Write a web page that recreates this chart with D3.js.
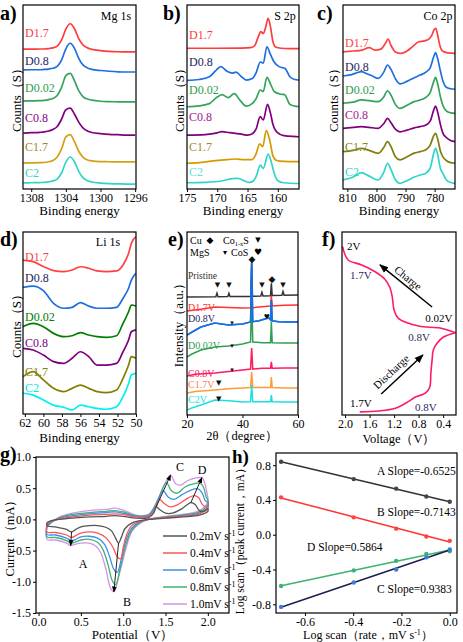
<!DOCTYPE html>
<html><head><meta charset="utf-8">
<script src="https://cdn.jsdelivr.net/npm/d3@7"></script>
<style>body{margin:0;background:#fff}svg{display:block}</style>
</head><body><svg id="chart"></svg>
<script>
// ================= DATA =================
const xpsSeries = ["D1.7","D0.8","D0.02","C0.8","C1.7","C2"];

// (a) Mg 1s
const mgEnergy = [1308.9,1308,1307,1306.5,1306,1305.5,1305,1304.5,1304,1303.5,1303,1302.5,1302,1301.5,1301,1300,1299,1298,1297,1296];
const mgD17  = [76,76.0,76.1,76.1,76.3,76.7,77.7,80.9,86.9,89.8,87.1,81.6,78.2,76.7,75.9,75.2,74.8,74.6,74.5,74.5];
const mgD08  = [64.7,64.8,64.8,65,65.2,65.6,66.6,70,76.2,79.2,76.4,70.9,67.3,65.8,65,64.4,64,63.7,63.6,63.6];
const mgD002 = [47.8,47.9,48.0,48.2,48.6,49.2,50.8,55.2,61.6,62.8,58.7,53.3,50.1,48.9,48.3,47.7,47.5,47.4,47.3,47.3];
const mgC08  = [30.4,30.6,30.8,31,31.5,32.3,34,37.9,43.1,43.9,40.6,36.2,33.1,31.5,30.7,30.1,29.7,29.5,29.3,29.3];
const mgC17  = [14.1,14.2,14.3,14.4,14.8,15.5,17.4,21.8,28.3,29.6,25.7,20.4,17.2,15.8,15.3,14.9,14.8,14.7,14.7,14.7];
const mgC2   = [3.3,3.4,3.5,3.6,3.9,4.4,5.4,8.7,14.6,17.4,14.8,9.4,6.0,4.5,3.8,3.2,2.9,2.8,2.7,2.7];

// (b) S 2p  [energy, counts]
const sD17 = [[175,76.5],[170,76.5],[166,76.6],[164.5,76.8],[163.8,78],[163.2,83],[162.8,85.5],[162.4,84.5],[162,88],[161.6,92.8],[161.2,88],[160.8,80],[160.3,77],[159.5,76.5],[158,76.3],[156.5,76.3]];
const sD08 = [[175,59],[173,59.5],[171.3,61],[170.2,64.5],[169.4,66.5],[168.4,64],[167.5,63],[166.9,63.5],[166,61],[165.2,59.2],[164.2,60],[163.6,63],[162.9,69],[162.4,68.4],[161.8,77.3],[161.2,73],[160.6,69],[159.8,66.5],[158.8,65.5],[158,61],[157.2,59.5],[156.5,59.2]];
const sD002 = [[175,44.7],[173,45.2],[171.3,46.4],[170.2,49.5],[169.2,51.3],[168.2,49.7],[167.2,51.8],[166.2,48],[165.2,45],[164.2,46.5],[163.6,49],[162.9,53.8],[162.4,53],[161.8,60.7],[161.2,57],[160.6,53],[159.5,51.5],[158.9,51.3],[158,46],[157.2,45],[156.5,44.7]];
const sC08 = [[175,29.3],[172,29.6],[170,30.5],[169.2,31.2],[168,30.6],[166,29.8],[165,29.3],[164.2,30],[163.6,32.5],[162.9,39.3],[162.4,37.5],[161.7,46],[161.2,41],[160.8,35],[160.2,31],[159,29],[157,28.5],[156.5,28.4]];
const sC17 = [[175,14],[173,14.3],[171,15.2],[169,15.8],[167,16.3],[165.5,16],[164.3,16],[163.6,19],[163,24.5],[162.5,23],[161.9,31.7],[161.3,26],[160.8,18],[160.2,15.5],[159,15],[157,14.9],[156.5,14.9]];
const sC2 = [[175,3.4],[172,3.6],[169.5,4.2],[167.5,5.6],[166.6,5.8],[165.5,4.4],[164.7,3.6],[164,4.5],[163.5,7.5],[162.9,13],[162.4,11.2],[161.6,19],[161.1,15],[160.6,8.6],[160,4.5],[159,3.4],[157,3],[156.5,3]];

// (c) Co 2p
const coD17 = [[811.5,74.5],[808,75],[805,75.5],[802.5,76.8],[800.5,75.5],[798.5,76],[797,79],[796,81.4],[795,78],[793.5,74.5],[791.5,73.7],[789.5,75],[787.5,77.5],[785.5,80],[783.5,80.5],[782,81.5],[781,83.5],[780.2,86.5],[779.6,87.3],[779,84],[778.2,78],[777.3,75],[775.5,74],[773,73.7]];
const coD08 = [[811.5,61.4],[809,62],[807,63],[805.2,63.8],[803.5,62.8],[801.5,61.5],[799.4,60.1],[797.5,63.5],[796.2,67.4],[795,65],[793.5,60],[791.9,57.1],[789.5,58.5],[787,60.5],[785,61.9],[783,63.5],[781.5,66],[780.3,72],[779.7,74.1],[779,71],[778,64],[777.2,59],[776,55.3],[774.5,54.5],[773,54.2]];
const coD002 = [[811.5,46.6],[808,47.2],[805.2,48.4],[802.5,48],[799.4,47.5],[797.5,50],[796.2,53.4],[795,51],[793.5,46],[791.9,43.8],[789.5,45.5],[787,47.5],[785,48.4],[783,49.8],[781.5,52.5],[780.3,58.5],[779.7,60.7],[779,57.5],[778,50],[777.2,45.5],[776,42.5],[774.5,41.4],[773,41.1]];
const coC08 = [[811.5,33],[808,33.5],[805.2,33.9],[802.5,33.5],[799.4,33],[797.5,35.5],[796.2,38.4],[795,36],[793.5,32.5],[791.9,31.1],[789.5,32],[787,33.2],[785,33.9],[783,34.8],[781.5,37],[780.3,43],[779.7,45.1],[779,42],[778,35],[777.2,30.5],[776,28],[774.5,26.3],[773,25.7]];
const coC17 = [[811.5,20.3],[808,21],[805.2,22.1],[802.5,21],[799.4,19.4],[797.5,22.5],[796.2,25.7],[795,23],[793.5,17.5],[791.9,15.8],[789.5,17.5],[787,19.5],[785,20.3],[783,21.3],[781.5,24],[780.3,29],[779.7,30.3],[779,27.5],[778,20.5],[777.2,17.6],[776,15.5],[774.5,14.3],[773,14]];
const coC2 = [[811.5,4.9],[808,6.5],[805.2,8.9],[802.5,7],[799.4,4.9],[797.5,9],[796.2,14],[795,10.5],[793.5,5],[791.9,3.1],[789.5,4.5],[787,6.5],[785,7.6],[783,8.6],[781.5,11.5],[780.3,19.5],[779.7,22.1],[779,19],[778,11],[777.2,8.6],[776,5],[774.5,3.5],[773,3.1]];

// (d) Li 1s
const liD17 = [[62.2,84.6],[61.1,83.7],[60,81],[58.9,78.8],[57.8,78.2],[56.9,79.1],[56,80.9],[55.1,80.1],[54.2,78.6],[53.2,78.2],[52.1,78.6],[51.4,81.9],[50.8,88.3],[50.5,93.8],[50,97.4]];
const liD08 = [[62.2,69.6],[61.1,70.3],[60,67.8],[58.9,60.8],[57.8,58.1],[56.9,58.6],[56,61.2],[55.1,59.3],[54.2,58.1],[53.2,58.1],[52.1,58.6],[51.4,63.6],[50.8,69.1],[50.5,73.6],[50,77.3]];
const liD002 = [[62.2,48],[61.1,49.8],[60,48],[58.9,44.3],[57.8,42.5],[56.9,43],[56,44.7],[55.1,43.4],[54.2,42.5],[53.2,42.1],[52.1,43],[51.4,49.8],[50.8,56.2],[50.5,59.9],[50,59.3]];
const liC08 = [[62.2,36.1],[61.1,35.2],[60,32.4],[58.9,28.8],[57.8,27.8],[56.9,30.6],[56,34.2],[55.1,31.5],[54.2,26.9],[53.2,26.9],[52.1,27.8],[51.4,34.2],[50.8,40.7],[50.5,45.2],[50,46.2]];
const liC17 = [[62.2,20.5],[61.1,23.3],[60,18.7],[58.9,14.1],[57.8,12.3],[56.9,14.1],[56,15.9],[55.1,14.1],[54.2,12.3],[53.2,11.7],[52.1,13.2],[51.4,19.6],[50.8,26.9],[50.5,31.5],[50,30.6]];
const liC2 = [[62.2,11.4],[61.1,10.4],[60,7.7],[58.9,4.9],[57.8,3.7],[56.9,2.2],[56,4.9],[55.1,4],[54.2,3.1],[53.2,2.6],[52.1,4],[51.4,9.5],[50.8,16.8],[50.5,21.4],[50,22.3]];

// (e) XRD  [2theta, intensity]
const xrdSeries = ["Pristine","D1.7V","D0.8V","D0.02V","C0.8V","C1.7V","C2V"];
const xrdPristine = [[20,64.5],[30.4,64.6],[30.8,66.5],[31.2,64.6],[34.7,64.7],[35.1,66.5],[35.5,64.7],[43.0,64.8],[43.3,83],[43.6,64.9],[46.6,65],[47,67],[47.4,65],[50.1,65.2],[50.4,72],[50.7,65.3],[54.2,65.4],[54.6,67.5],[55,65.5],[60,65.6]];
const xrdD17 = [[20,56.8],[25,57.8],[30,59],[35,58.8],[40,58.5],[43.0,58.6],[43.3,62],[43.6,58.6],[48,59.3],[50.1,59.5],[50.4,65],[50.7,59.6],[55,60],[60,60.1]];
const xrdD08 = [[20,43.7],[22,45.5],[25,48.1],[30,50.3],[35,49.2],[40,49.7],[42.9,50.8],[43.3,83.6],[43.7,51],[46,51.5],[48,52.5],[49.5,53],[50.1,52],[50.4,62.8],[50.7,51.5],[53,51],[56,50.8],[60,50.8]];
const xrdD002 = [[20,31.7],[22,33.5],[25,35.5],[30,37.2],[35,37.7],[40,38.8],[42.9,39.9],[43.3,62.8],[43.7,39.9],[47,39.5],[50.1,39.5],[50.4,50.8],[50.7,39.5],[55,39.3],[60,39.3]];
const xrdC08 = [[20,21.3],[23,22.3],[30,23],[35,23.8],[40,24.6],[42.9,25.1],[43.3,36.6],[43.7,25.1],[47,25.5],[50.1,25.5],[50.4,29],[50.7,25.5],[55,25.7],[60,25.7]];
const xrdC17 = [[20,12],[23,12.8],[30,13.7],[35,14.3],[40,14.8],[42.9,15],[43.3,23.5],[43.7,15],[47,15],[50.1,15],[50.4,20.8],[50.7,15],[55,14.8],[60,14.8]];
const xrdC2 = [[20,2.7],[22,4],[25,5.5],[30,8.2],[35,7.8],[40,7.1],[42.9,7.2],[43.3,16.4],[43.7,7.2],[47,7.2],[50.1,7.2],[50.4,10.9],[50.7,7.2],[55,7.1],[60,7.1]];
// phase markers: [glyph, 2theta, intensity]
const xrdMarks = [["◆",43.4,85.2],["◆",50.6,74.3],["▼",31.0,70.8],["▼",35.1,70.8],["▼",47.0,70.8],["▼",54.6,70.8],
  ["♥",48.8,53.6],["▾",36.2,50.3],["▾",36.2,37.7],["▾",36.2,24.6],["▼",31.4,17.5],["▼",31.4,8.7]];

// (f) voltage profile [voltage, progress]
const fDischarge = [[1.76,1.7],[1.45,2.2],[1.18,3.7],[0.97,7.3],[0.86,9.7],[0.69,11.9],[0.62,15],[0.6,23],[0.58,30],[0.56,35.5],[0.5,39.2],[0.4,42.5],[0.2,45]];
const fCharge = [[0.2,45],[0.45,47.5],[0.8,48.6],[1.13,52.8],[1.2,57.4],[1.23,64.6],[1.27,69.8],[1.35,74.2],[1.51,78.3],[1.73,82],[1.95,84.7],[2.01,88.4],[2.04,92]];

// (g) CV  [potential V, current mA]
const cvRates = ["0.2mV s","0.4mV s","0.6mV s","0.8mV s","1.0mV s"];
const cvAn02 = [[0.1,-0.05],[0.15,-0.02],[0.25,0.0],[0.4,0.02],[0.6,0.04],[0.8,0.05],[0.9,0.06],[1.0,0.05],[1.15,0.02],[1.3,0.03],[1.36,0.1],[1.39,0.2],[1.43,0.16],[1.5,0.1],[1.58,0.1],[1.68,0.16],[1.76,0.24],[1.8,0.27],[1.85,0.24],[1.9,0.14],[1.95,0.13],[2.0,0.17]];
const cvAn04 = [[0.1,-0.07],[0.15,-0.03],[0.25,0.01],[0.4,0.04],[0.6,0.07],[0.8,0.08],[0.9,0.09],[1.0,0.08],[1.15,0.04],[1.3,0.05],[1.37,0.14],[1.43,0.32],[1.48,0.26],[1.56,0.2],[1.65,0.24],[1.75,0.33],[1.84,0.38],[1.89,0.35],[1.93,0.25],[1.97,0.2],[2.0,0.22]];
const cvAn06 = [[0.1,-0.09],[0.15,-0.04],[0.25,0.02],[0.4,0.06],[0.6,0.09],[0.8,0.11],[0.9,0.12],[1.0,0.1],[1.15,0.05],[1.3,0.06],[1.38,0.2],[1.47,0.46],[1.53,0.36],[1.6,0.32],[1.7,0.4],[1.8,0.47],[1.88,0.49],[1.93,0.43],[1.97,0.3],[2.0,0.27]];
const cvAn08 = [[0.1,-0.11],[0.15,-0.05],[0.25,0.03],[0.4,0.08],[0.6,0.11],[0.8,0.13],[0.9,0.14],[1.0,0.12],[1.15,0.06],[1.3,0.07],[1.4,0.28],[1.51,0.59],[1.57,0.46],[1.64,0.42],[1.73,0.52],[1.83,0.57],[1.91,0.58],[1.95,0.51],[1.98,0.36],[2.0,0.31]];
const cvAn10 = [[0.1,-0.13],[0.15,-0.05],[0.25,0.04],[0.4,0.1],[0.6,0.14],[0.8,0.16],[0.9,0.18],[1.0,0.15],[1.15,0.07],[1.3,0.08],[1.42,0.35],[1.51,0.62],[1.56,0.71],[1.62,0.57],[1.68,0.55],[1.76,0.62],[1.85,0.66],[1.93,0.67],[1.96,0.6],[1.99,0.42],[2.0,0.35]];
const cvCa02 = [[2.0,0.13],[1.9,0.07],[1.7,0.04],[1.5,0.02],[1.3,0.0],[1.2,-0.02],[1.1,-0.06],[1.02,-0.15],[0.98,-0.28],[0.945,-0.38],[0.91,-0.3],[0.86,-0.18],[0.8,-0.13],[0.7,-0.1],[0.6,-0.1],[0.5,-0.12],[0.44,-0.16],[0.39,-0.2],[0.33,-0.16],[0.2,-0.12],[0.1,-0.1]];
const cvCa04 = [[2.0,0.17],[1.9,0.09],[1.7,0.05],[1.5,0.03],[1.3,0.0],[1.2,-0.03],[1.1,-0.1],[1.04,-0.25],[1.0,-0.45],[0.97,-0.63],[0.93,-0.6],[0.88,-0.45],[0.8,-0.3],[0.7,-0.22],[0.6,-0.2],[0.5,-0.22],[0.44,-0.26],[0.39,-0.29],[0.33,-0.25],[0.2,-0.21],[0.1,-0.2]];
const cvCa06 = [[2.0,0.2],[1.9,0.1],[1.7,0.06],[1.5,0.03],[1.3,0.0],[1.2,-0.04],[1.1,-0.14],[1.03,-0.35],[0.98,-0.62],[0.93,-0.85],[0.89,-0.8],[0.84,-0.6],[0.78,-0.4],[0.7,-0.3],[0.6,-0.27],[0.5,-0.28],[0.44,-0.32],[0.39,-0.34],[0.33,-0.3],[0.2,-0.25],[0.1,-0.24]];
const cvCa08 = [[2.0,0.24],[1.9,0.12],[1.7,0.07],[1.5,0.04],[1.3,0.0],[1.2,-0.05],[1.1,-0.17],[1.03,-0.42],[0.97,-0.75],[0.91,-1.05],[0.87,-0.98],[0.82,-0.72],[0.76,-0.48],[0.7,-0.37],[0.6,-0.32],[0.5,-0.33],[0.44,-0.36],[0.38,-0.38],[0.33,-0.34],[0.2,-0.29],[0.1,-0.28]];
const cvCa10 = [[2.0,0.28],[1.9,0.14],[1.7,0.08],[1.5,0.05],[1.3,0.0],[1.2,-0.06],[1.1,-0.2],[1.03,-0.48],[0.96,-0.85],[0.89,-1.16],[0.85,-1.1],[0.8,-0.82],[0.74,-0.55],[0.68,-0.43],[0.6,-0.38],[0.5,-0.38],[0.43,-0.4],[0.38,-0.42],[0.33,-0.38],[0.2,-0.33],[0.1,-0.32]];

// (h) log-log
const hLogRate = [-0.699,-0.398,-0.222,-0.097,0];
const hA = [0.84,0.64,0.53,0.44,0.38];
const hB = [0.43,0.2,0.07,-0.02,-0.07];
const hD = [-0.59,-0.41,-0.3,-0.22,-0.19];
const hC = [-0.83,-0.55,-0.4,-0.26,-0.17];
const hSlopes = ["A Slope=-0.6525","B Slope=-0.7143","D Slope=0.5864","C Slope=0.9383"];

// ================= DRAWING =================
const SERIF = '"Liberation Serif","Times New Roman",serif';
const svg = d3.select("#chart").attr("width",463).attr("height",642);
const defs = svg.append("defs");
defs.append("marker").attr("id","arr").attr("viewBox","0 0 10 10").attr("refX",9).attr("refY",5)
  .attr("markerWidth",6).attr("markerHeight",6).attr("orient","auto")
  .append("path").attr("d","M0,1L10,5L0,9Z").attr("fill","#000");

function txt(x,y,s,o={}){
  const t = svg.append("text").attr("x",x).attr("y",y)
    .attr("font-family",o.ff||SERIF).attr("font-size",o.fs||12)
    .attr("fill",o.fill||"#000").attr("text-anchor",o.anchor||"start").text(s);
  if(o.bold) t.attr("font-weight","bold");
  if(o.mid) t.attr("dominant-baseline","central");
  if(o.rot!=null) t.attr("transform",`rotate(${o.rot},${x},${y})`);
  return t;
}
function sup(t,s){ t.append("tspan").attr("dy",-4).attr("font-size",8).text(s); return t; }
function frame(L,T,R,B){ svg.append("rect").attr("x",L).attr("y",T).attr("width",R-L).attr("height",B-T).attr("fill","none").attr("stroke","#000").attr("stroke-width",1.2); }
let clipN=0;
function clip(L,T,R,B){ const id="cp"+(clipN++); defs.append("clipPath").attr("id",id).append("rect").attr("x",L).attr("y",T).attr("width",R-L).attr("height",B-T); return "url(#"+id+")"; }
function bottomAxis(x,ticks,y0,fmt){
  const a = svg.append("g").attr("transform",`translate(0,${y0})`)
    .call(d3.axisBottom(x).tickValues(ticks).tickSize(3).tickPadding(1).tickFormat(fmt||(d=>String(d))));
  a.select(".domain").remove();
  a.selectAll("text").attr("font-family",SERIF).attr("font-size",12).attr("fill","#000");
  a.selectAll("line").attr("stroke","#000");
}
function leftAxis(y,ticks,x0,fmt){
  const a = svg.append("g").attr("transform",`translate(${x0},0)`)
    .call(d3.axisLeft(y).tickValues(ticks).tickSize(3).tickPadding(2).tickFormat(fmt));
  a.select(".domain").remove();
  a.selectAll("text").attr("font-family",SERIF).attr("font-size",12).attr("fill","#000");
  a.selectAll("line").attr("stroke","#000");
}

function xpsPanel(o){
  const x = d3.scaleLinear().domain(o.xDomain).range([o.L,o.R]);
  const y = d3.scaleLinear().domain([0,100]).range([o.B,o.T]);
  const cp = clip(o.L,o.T,o.R,o.B);
  const line = d3.line().x(d=>x(d[0])).y(d=>y(d[1])).curve(d3.curveMonotoneX);
  const g = svg.append("g").attr("clip-path",cp);
  o.series.forEach((s,i)=>{
    g.append("path").attr("d",line(s)).attr("fill","none").attr("stroke",o.colors[i]).attr("stroke-width",1.7).attr("stroke-linejoin","round");
  });
  frame(o.L,o.T,o.R,o.B);
  bottomAxis(x,o.ticks,o.B);
  xpsSeries.forEach((n,i)=>txt(o.labelX,y(o.labelY[i]),n,{fs:12,fill:o.labelColors[i],mid:true}));
  txt(o.titleX,o.titleY,o.title,{fs:12,anchor:"middle"});
  txt(o.letterX,o.letterY,o.letter,{fs:20,bold:true});
  txt(o.ylabX,(o.T+o.B)/2,"Counts（S）",{fs:13,anchor:"middle",rot:-90,mid:true});
  txt((o.L+o.R)/2,o.B+o.xlabDy,"Binding energy",{fs:13,anchor:"middle"});
}

const lineCols = ["#ff3b3b","#1f6fe0","#35a35c","#800080","#d4a017","#2fd6c8"];
const labCols  = ["#ff3b3b","#1d1d5e","#2e9e4f","#8b008b","#9a8a20","#30d5c8"];
const zip = (xs,ys)=>xs.map((v,i)=>[v,ys[i]]);

xpsPanel({L:23,R:136,T:5,B:189,xDomain:[1308.95,1295.9],ticks:[1308,1304,1300,1296],
  series:[zip(mgEnergy,mgD17),zip(mgEnergy,mgD08),zip(mgEnergy,mgD002),zip(mgEnergy,mgC08),zip(mgEnergy,mgC17),zip(mgEnergy,mgC2)],
  colors:lineCols,labelColors:labCols,labelX:25,labelY:[84.8,69.6,54.9,38.6,22.8,8.7],
  title:"Mg 1s",titleX:116,titleY:20,letter:"a)",letterX:0,letterY:20,ylabX:16,xlabDy:26});
xpsPanel({L:187,R:299,T:5,B:189,xDomain:[175,156.5],ticks:[175,170,165,160],
  series:[sD17,sD08,sD002,sC08,sC17,sC2],
  colors:["#ff3b3b","#1f6fe0","#35a35c","#800080","#d69a00","#2fd6c8"],labelColors:["#ff3b3b","#1d1d5e","#2e9e4f","#a0208e","#a08c1e","#5fe0d8"],
  labelX:189,labelY:[83.7,69,53.8,39.1,22.8,9.2],
  title:"S 2p",titleX:285,titleY:20,letter:"b)",letterX:163,letterY:20,ylabX:179,xlabDy:26});
xpsPanel({L:343,R:455,T:5,B:189,xDomain:[811.5,773],ticks:[810,800,790,780],
  series:[coD17,coD08,coD002,coC08,coC17,coC2],
  colors:["#ff4040","#1f6fe0","#35a35c","#800080","#7f7f10","#2fd6c8"],labelColors:["#ff4040","#1d1d5e","#2e9e4f","#a0208e","#8b8b00","#30d5c8"],
  labelX:345,labelY:[79.3,66.3,53.8,40.2,22.8,9.2],
  title:"Co 2p",titleX:438,titleY:20,letter:"c)",letterX:317,letterY:20,ylabX:333,xlabDy:26});
xpsPanel({L:23,R:136,T:232,B:414,xDomain:[62.2,50],ticks:[62,60,58,56,54,52,50],
  series:[liD17,liD08,liD002,liC08,liC17,liC2],
  colors:["#ff4040","#1f6fe0","#008000","#800080","#808000","#00f0f0"],labelColors:["#ff4040","#1d1d5e","#008000","#800080","#808000","#00e5e5"],
  labelX:25,labelY:[86.3,74.7,53.3,39,23.1,14.3],
  title:"Li 1s",titleX:108,titleY:246,letter:"d)",letterX:0,letterY:246,ylabX:16,xlabDy:28});

// ---- (e) XRD ----
(function(){
  const L=187,R=298,T=232,B=415;
  const x = d3.scaleLinear().domain([20,60]).range([L,R]);
  const y = d3.scaleLinear().domain([0,100]).range([B,T]);
  const cols = ["#333333","#ff3333","#1a6fdf","#2e9e4f","#ff1a5e","#ff9a3c","#1ae0e0"];
  const labc = ["#333333","#ff3333","#1d1d5e","#2e9e4f","#ff1a5e","#ff7f50","#1ae0e0"];
  const labY = [76,58.5,52.5,37.8,22.8,16.8,8.2];
  const data = [xrdPristine,xrdD17,xrdD08,xrdD002,xrdC08,xrdC17,xrdC2];
  const line = d3.line().x(d=>x(d[0])).y(d=>y(d[1]));
  const g = svg.append("g").attr("clip-path",clip(L,T,R,B));
  data.forEach((s,i)=>g.append("path").attr("d",line(s)).attr("fill","none").attr("stroke",cols[i]).attr("stroke-width",1.5));
  g.append("path").attr("d",line(xrdD08)).attr("fill","none").attr("stroke",cols[2]).attr("stroke-width",1.5);
  xrdMarks.forEach(m=>txt(x(m[1]),y(m[2]),m[0],{ff:"DejaVu Sans",fs:m[0]==="◆"?9:7,anchor:"middle",mid:true,fill:"#111"}));
  xrdSeries.forEach((n,i)=>txt(L+1,y(labY[i]),n,{fs:n==="Pristine"?9.5:10,fill:labc[i],mid:true}));
  frame(L,T,R,B);
  bottomAxis(x,[20,40,60],B);
  // legend
  txt(190,244,"Cu",{fs:10}); txt(210,240,"◆",{ff:"DejaVu Sans",fs:9,anchor:"middle",mid:true});
  const co = txt(223,244,"Co",{fs:10}); co.append("tspan").attr("dy",2).attr("font-size",6.5).text("1-x"); co.append("tspan").attr("dy",-2).text("S");
  txt(258,240,"▼",{ff:"DejaVu Sans",fs:7,anchor:"middle",mid:true});
  txt(190,256,"MgS",{fs:10}); txt(225,252,"▾",{ff:"DejaVu Sans",fs:8,anchor:"middle",mid:true});
  txt(231,256,"CoS",{fs:10}); txt(258,252,"♥",{ff:"DejaVu Sans",fs:9,anchor:"middle",mid:true});
  txt(168,246,"e)",{fs:20,bold:true});
  txt(178,322,"Intensity（a.u.）",{fs:13,anchor:"middle",rot:-90,mid:true});
  txt(242,440,"2θ（degree）",{fs:12.5,anchor:"middle"});
})();

// ---- (f) voltage ----
(function(){
  const L=342,R=456,T=232,B=415;
  const x = d3.scaleLinear().domain([2.05,0.19]).range([L,R]);
  const y = d3.scaleLinear().domain([0,100]).range([B,T]);
  const line = d3.line().x(d=>x(d[0])).y(d=>y(d[1])).curve(d3.curveCatmullRom.alpha(0.5));
  const g = svg.append("g").attr("clip-path",clip(L-1,T,R+1,B));
  [fDischarge,fCharge].forEach(s=>g.append("path").attr("d",line(s)).attr("fill","none").attr("stroke","#ff1a66").attr("stroke-width",1.6));
  frame(L,T,R,B);
  bottomAxis(x,[2.0,1.6,1.2,0.8,0.4],B,d=>d.toFixed(1));
  const ann = [["2V",1.97,92.3,"#000"],["1.7V",1.92,76.5,"#2b2b5e"],["0.02V",0.69,53,"#000"],["0.8V",0.97,42.6,"#2b2b5e"],["1.7V",1.92,6.6,"#000"],["0.8V",0.86,4.4,"#2b2b5e"]];
  ann.forEach(a=>txt(x(a[1]),y(a[2]),a[0],{fs:11,fill:a[3],mid:true}));
  svg.append("line").attr("x1",x(0.58)).attr("y1",y(59)).attr("x2",x(1.43)).attr("y2",y(82)).attr("stroke","#000").attr("stroke-width",1.5).attr("marker-end","url(#arr)");
  svg.append("line").attr("x1",x(1.41)).attr("y1",y(11.5)).attr("x2",x(0.73)).attr("y2",y(32.8)).attr("stroke","#000").attr("stroke-width",1.5).attr("marker-end","url(#arr)");
  txt(x(0.97),y(75),"Charge",{fs:11,anchor:"middle",mid:true,rot:39});
  txt(x(1.25),y(23.7),"Discharge",{fs:11,anchor:"middle",mid:true,rot:-43});
  txt(322,246,"f)",{fs:20,bold:true});
  txt((L+R)/2,443,"Voltage（V）",{fs:12.5,anchor:"middle"});
})();

// ---- (g) CV ----
(function(){
  const L=36,R=229,T=457,B=613;
  const x = d3.scaleLinear().domain([-0.03,2.25]).range([L,R]);
  const y = d3.scaleLinear().domain([-1.5,1.0]).range([B,T]);
  const cols = ["#555555","#ff5555","#3d8fe8","#3cb371","#d591e6"];
  const an = [cvAn02,cvAn04,cvAn06,cvAn08,cvAn10], ca = [cvCa02,cvCa04,cvCa06,cvCa08,cvCa10];
  const line = d3.line().x(d=>x(d[0])).y(d=>y(d[1])).curve(d3.curveCatmullRom.alpha(0.5));
  for(let i=4;i>=0;i--){
    const loop = an[i].concat(ca[i]).concat([an[i][0]]);
    svg.append("path").attr("d",line(loop)).attr("fill","none").attr("stroke",cols[i]).attr("stroke-width",1.3);
  }
  const pick = (arr,f,cmp)=>arr.filter(f).reduce((a,b)=>cmp(b[1],a[1])?b:a);
  const lt=(a,b)=>a<b, gt=(a,b)=>a>b;
  const peaks = [
    [pick(ca[0],d=>d[0]<0.6,lt),pick(ca[4],d=>d[0]<0.6,lt)],
    [pick(ca[0],d=>d[0]>0.6,lt),pick(ca[4],d=>d[0]>0.6,lt)],
    [pick(an[0],d=>d[0]>1.2&&d[0]<1.6,gt),pick(an[4],d=>d[0]>1.2&&d[0]<1.65,gt)],
    [pick(an[0],d=>d[0]>1.7,gt),pick(an[4],d=>d[0]>1.7,gt)]];
  peaks.forEach(p=>svg.append("line").attr("x1",x(p[0][0])).attr("y1",y(p[0][1])).attr("x2",x(p[1][0])).attr("y2",y(p[1][1]))
    .attr("stroke","#222").attr("stroke-width",1).attr("marker-end","url(#arr)"));
  txt(83,568,"A",{fs:12,anchor:"middle"}); txt(127,606,"B",{fs:12,anchor:"middle"});
  txt(180,471,"C",{fs:12,anchor:"middle"}); txt(202,474,"D",{fs:12,anchor:"middle"});
  frame(L,T,R,B);
  bottomAxis(x,[0,0.5,1.0,1.5,2.0],B,d=>d.toFixed(1));
  leftAxis(y,[-1.5,-1.0,-0.5,0,0.5,1.0],L,d=>d.toFixed(1));
  const rows=[536,553,570,587,604];
  cvRates.forEach((r,i)=>{
    svg.append("line").attr("x1",163).attr("x2",187).attr("y1",rows[i]).attr("y2",rows[i]).attr("stroke",cols[i]).attr("stroke-width",1.5);
    sup(txt(190,rows[i]+4,r,{fs:11.5}),"-1");
  });
  txt(0,461,"g)",{fs:20,bold:true});
  txt(10,(T+B)/2,"Current（mA）",{fs:12.5,anchor:"middle",rot:-90,mid:true});
  txt((L+R)/2,639,"Potential（V）",{fs:13,anchor:"middle"});
})();

// ---- (h) log-log ----
(function(){
  const L=276,R=457,T=453,B=613;
  const x = d3.scaleLinear().domain([-0.72,0.03]).range([L,R]);
  const y = d3.scaleLinear().domain([-0.9,0.94]).range([B,T]);
  const sets = [[hA,"#333333","#444444"],[hB,"#ff3333","#ff4444"],[hD,"#3cb371","#3cb371"],[hC,"#1b1f4f","#3a7bd5"]];
  sets.forEach(([ys,lc,pc])=>{
    const mx=d3.mean(hLogRate), my=d3.mean(ys);
    const k=d3.sum(hLogRate.map((v,i)=>(v-mx)*(ys[i]-my)))/d3.sum(hLogRate.map(v=>(v-mx)*(v-mx)));
    const b=my-k*mx, x0=hLogRate[0], x1=hLogRate[hLogRate.length-1];
    svg.append("line").attr("x1",x(x0)).attr("y1",y(k*x0+b)).attr("x2",x(x1)).attr("y2",y(k*x1+b)).attr("stroke",lc).attr("stroke-width",1.5);
    svg.append("g").selectAll("circle").data(zip(hLogRate,ys)).join("circle").attr("cx",d=>x(d[0])).attr("cy",d=>y(d[1])).attr("r",2.2).attr("fill",pc);
  });
  txt(377,475,hSlopes[0],{fs:11.5}); txt(377,516,hSlopes[1],{fs:11.5});
  txt(307,551,hSlopes[2],{fs:11.5}); txt(377,593,hSlopes[3],{fs:11.5});
  frame(L,T,R,B);
  bottomAxis(x,[-0.6,-0.4,-0.2,0.0],B,d=>d.toFixed(1));
  leftAxis(y,[-0.8,-0.4,0,0.4,0.8],L,d=>d.toFixed(1));
  txt(232,463,"h)",{fs:19,bold:true});
  txt(240,538,"Log scan（peak current，mA）",{fs:11.5,anchor:"middle",rot:-90,mid:true});
  const t = txt(368,639,"Log scan（rate，mV s",{fs:12,anchor:"middle"});
  t.append("tspan").attr("dy",-4).attr("font-size",8).text("-1");
  t.append("tspan").attr("dy",4).text("）");
})();
</script></body></html>
